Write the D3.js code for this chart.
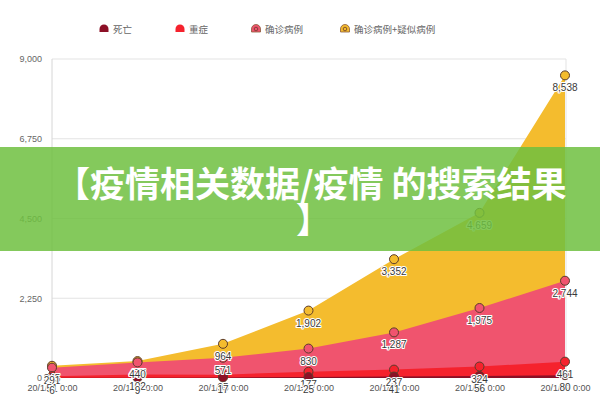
<!DOCTYPE html>
<html><head><meta charset="utf-8">
<script src="https://cdn.jsdelivr.net/npm/d3@7/dist/d3.min.js"></script>
<style>body{margin:0;background:#fff}svg{display:block;font-family:"Noto Sans CJK SC","Noto Sans",sans-serif}</style>
</head><body><svg id="c" width="600" height="400"></svg>
<script>
const dates = ["20/1/21 0:00","20/1/22 0:00","20/1/23 0:00","20/1/24 0:00","20/1/25 0:00","20/1/26 0:00","20/1/27 0:00"];
const deaths = [6, 9, 17, 25, 41, 56, 80];
const severe = [51, 102, 95, 177, 237, 324, 461];
const confirmed = [291, 440, 571, 830, 1287, 1975, 2744];
const confirmedSuspected = [345, 477, 964, 1902, 3352, 4659, 8538];
const yTicks = [0, 2250, 4500, 6750, 9000];
const seriesNames = ["死亡","重症","确诊病例","确诊病例+疑似病例"];
const seriesColors = ["#8c1026","#f5222d","#f0546e","#f4bc2e"];
const bannerLines = ["【疫情相关数据/疫情 的搜索结果", "】"];

const svg = d3.select("#c");
const x = d3.scalePoint().domain(dates).range([52, 565]);
const y = d3.scaleLinear().domain([0, 9000]).range([378, 59]);
const fmt = d3.format(",");

// grid
const g = svg.append("g");
g.selectAll("line.grid").data(yTicks.filter(d=>d>0)).join("line")
  .attr("x1", 52).attr("x2", 566).attr("y1", d=>y(d)).attr("y2", d=>y(d))
  .attr("stroke", "#e3e3e3").attr("stroke-width", 1);
g.append("line").attr("x1",52).attr("x2",52).attr("y1",y(9000)).attr("y2",y(0)).attr("stroke","#d6d6d6");
g.append("line").attr("x1",566).attr("x2",566).attr("y1",y(9000)).attr("y2",y(0)).attr("stroke","#e3e3e3");

// y labels
const yAxis = d3.axisLeft(y).tickValues(yTicks).tickFormat(fmt).tickSize(0).tickPadding(10);
const ya = svg.append("g").attr("transform","translate(52,0)").call(yAxis);
ya.select(".domain").remove();
ya.selectAll("text").attr("font-size", 9).attr("fill", "#666").attr("font-family","Liberation Sans, Arial, sans-serif");

// areas
const data = [deaths, severe, confirmed, confirmedSuspected];
const order = [3,2,1,0];
order.forEach(i => {
  const area = d3.area().x((d,j)=>x(dates[j])).y0(y(0)).y1(d=>y(d));
  svg.append("path").datum(data[i]).attr("d", area).attr("fill", seriesColors[i]);
});

// x labels
const xAxis = d3.axisBottom(x).tickSize(0).tickPadding(7);
const xa = svg.append("g").attr("transform","translate(0,378)").call(xAxis);
xa.select(".domain").remove();
xa.selectAll("text").attr("font-size", 9).attr("fill", "#555").attr("font-family","Liberation Sans, Arial, sans-serif");

// points
order.forEach(i => {
  svg.append("g").selectAll("circle").data(data[i]).join("circle")
    .attr("cx",(d,j)=>x(dates[j])).attr("cy", d=>y(d)).attr("r", 4.5)
    .attr("fill", seriesColors[i]).attr("stroke", "#5b3b2b").attr("stroke-width", 1);
});
// labels
order.forEach(i => {
  svg.append("g").selectAll("text").data(data[i]).join("text")
    .attr("x",(d,j)=>x(dates[j])).attr("y", d=>y(d)+16)
    .attr("text-anchor","middle").attr("font-size", 10)
    .attr("font-family","Liberation Sans, Arial, sans-serif")
    .attr("fill","#3a3a3a").attr("stroke","#fff").attr("stroke-width",2.2)
    .attr("paint-order","stroke").attr("stroke-linejoin","round")
    .text(d=>fmt(d));
});

// legend
const legX = [104, 180, 256, 345];
const lg = svg.append("g");
seriesNames.forEach((n,i)=>{
  const gg = lg.append("g").attr("transform",`translate(${legX[i]},29)`);
  gg.append("path").attr("d","M-4.5,3 L-4.5,0 A4.5,4.5 0 0 1 4.5,0 L4.5,3 Z").attr("fill",seriesColors[i])
    .attr("stroke", i>=2 ? "#8a5a3a" : "none").attr("stroke-width",0.8);
  if(i>=2) gg.append("circle").attr("r",1.8).attr("cy",0).attr("fill","none").attr("stroke","#6b3b2b").attr("stroke-width",0.8);
  gg.append("text").attr("x",9).attr("y",3.5).attr("font-size",9.5).attr("fill","#666").text(n);
});

// banner overlay
svg.append("rect").attr("x",0).attr("y",147).attr("width",600).attr("height",104).attr("fill","rgb(110,192,64)").attr("opacity",0.85);
svg.append("text").attr("x",55).attr("y",197).attr("font-size",35).attr("font-weight","bold").attr("fill","#fff").text(bannerLines[0]);
svg.append("text").attr("x",296).attr("y",233).attr("font-size",35).attr("font-weight","bold").attr("fill","#fff").text(bannerLines[1]);
</script></body></html>
